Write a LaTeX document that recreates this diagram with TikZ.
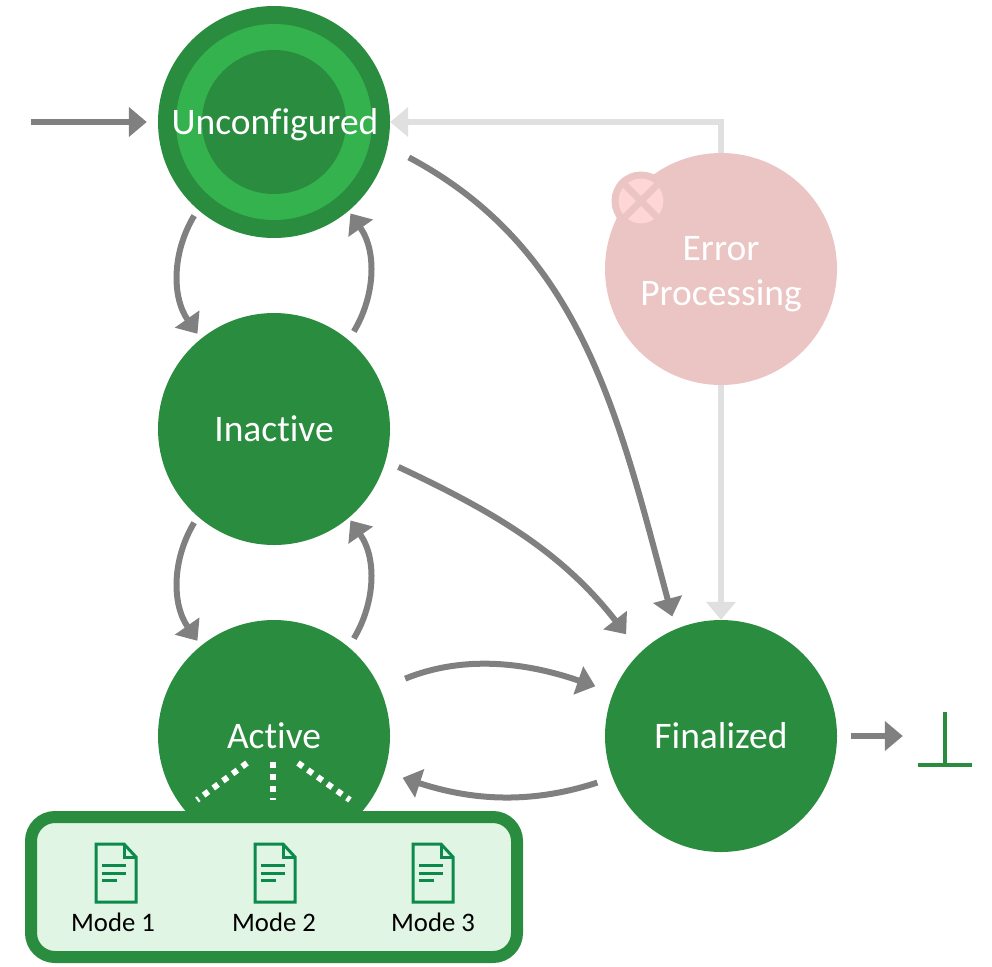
\documentclass[tikz,border=0pt]{standalone}
\usepackage{fontspec}
\setmainfont{Carlito}[Ligatures=NoCommon]
\usepackage{xcolor}
\usetikzlibrary{arrows.meta}
\definecolor{stategreen}{HTML}{2A8C3F}
\definecolor{ringgreen}{HTML}{33B24D}
\definecolor{boxgreen}{HTML}{E0F5E4}
\definecolor{docgreen}{HTML}{0B8A4C}
\definecolor{errorpink}{HTML}{EBC4C4}
\definecolor{crosspink}{HTML}{FFD6D6}
\definecolor{flowgray}{HTML}{808080}
\definecolor{faultgray}{HTML}{E0E0E0}
\tikzset{
    statenode/.style={circle,inner sep=0pt,minimum size=232pt,fill=stategreen,text=white,font=\fontsize{37.5}{45}\selectfont,align=center},
    modelabel/.style={inner sep=0pt,font=\fontsize{26.7}{28}\selectfont},
    flow/.style={draw=flowgray,line width=6pt,-{Triangle[length=18pt,width=29pt]}},
    fault/.style={draw=faultgray,line width=6pt,-{Triangle[length=18pt,width=29pt]}},
    modeline/.style={draw=white,line width=6pt,dash pattern=on 6pt off 6pt},
    docicon/.pic={
        \draw[docgreen,line width=3pt,fill=boxgreen] (-20,-29) -- (8,-29) -- (20,-16) -- (20,29) -- (-20,29) -- cycle;
        \draw[docgreen,line width=3pt] (8,-29) -- (8,-16) -- (20,-16);
        \draw[docgreen,line width=3pt] (-14,-8) -- (10,-8);
        \draw[docgreen,line width=3pt] (-14,0) -- (10,0);
        \draw[docgreen,line width=3pt] (-14,7) -- (1,7);
    }
}
\begin{document}
\begin{tikzpicture}[x=1pt,y=-1pt]
    \useasboundingbox (0,0) rectangle (992,966);
    \node[statenode] (unconfigured) at (274,122) {};
    \node[statenode,minimum size=196pt,fill=ringgreen] (ring) at (274,122) {};
    \node[statenode,minimum size=144pt] (core) at (274,122) {};
    \node[inner sep=0pt,text=white,font=\fontsize{37.5}{45}\selectfont] (unconfiguredtext) at (275,125) {Unconfigured};
    \node[statenode] (inactive) at (274,429) {Inactive};
    \node[statenode] (active) at (274,736) {Active};
    \node[statenode] (finalized) at (721,736) {Finalized};
    \node[statenode,fill=errorpink] (error) at (721,269) {};
    \node[inner sep=0pt,text=white,font=\fontsize{37.5}{45}\selectfont,align=center] (errortext) at (721,274) {Error\\Processing};
    \node[circle,inner sep=0pt,minimum size=52pt,fill=crosspink,draw=errorpink,line width=7pt] (cross) at (641,201) {};
    \draw[errorpink,line width=7pt] (cross.45) -- (cross.225);
    \draw[errorpink,line width=7pt] (cross.135) -- (cross.315);

    \coordinate (entry) at (31,122);
    \coordinate (bottomtop) at (945,712);
    \coordinate (bottomleft) at (918,765);
    \coordinate (bottomright) at (972,765);
    \coordinate (bottommid) at (945,765);
    \node[inner sep=0pt,minimum size=0pt] (bottom) at (945,736) {};

    \draw[flow,shorten >=11pt] (entry) -- (unconfigured.west);
    \draw[flow,shorten <=7pt,shorten >=6pt] (unconfigured.229) to[out=239,in=125] (inactive.129);
    \draw[flow,shorten <=10pt,shorten >=3pt] (inactive.50) to[out=59,in=-55] (unconfigured.-50);
    \draw[flow,shorten <=7pt,shorten >=6pt] (inactive.229) to[out=239,in=125] (active.129);
    \draw[flow,shorten <=10pt,shorten >=3pt] (active.50) to[out=59,in=-55] (inactive.-50);
    \draw[flow,shorten <=24pt,shorten >=13pt] (unconfigured.-12) to[out=-28,in=105] (finalized.113);
    \draw[flow,shorten <=14pt,shorten >=23pt] (inactive.-16) to[out=-25,in=128] (finalized.134);
    \draw[flow,shorten <=27pt,shorten >=19pt] (active.24) to[out=22,in=161] (finalized.158);
    \draw[flow,shorten <=16pt,shorten >=19pt] (finalized.201) to[out=198,in=-18] (active.-18);
    \draw[flow,shorten <=14pt,shorten >=42pt] (finalized.east) -- (bottom);
    \draw[fault] (error.north) -- (721,122) -- (unconfigured.east);
    \draw[fault] (error.south) -- (finalized.north);

    \draw[stategreen,line width=4pt] (bottomtop) -- (bottommid);
    \draw[stategreen,line width=4pt] (bottomleft) -- (bottomright);

    \coordinate (lineleft) at (197,800);
    \coordinate (linemid) at (273,800);
    \coordinate (lineright) at (350,800);
    \draw[modeline] (247,763) -- (lineleft);
    \draw[modeline] (273,762) -- (linemid);
    \draw[modeline] (298,763) -- (lineright);

    \node[draw=stategreen,fill=boxgreen,line width=12pt,rounded corners=24pt,minimum width=486pt,minimum height=140pt,inner sep=0pt] (modes) at (274,887) {};
    \pic at (116,873) {docicon};
    \pic at (275,873) {docicon};
    \pic at (433,873) {docicon};
    \node[modelabel] (mode1) at (113,922) {Mode 1};
    \node[modelabel] (mode2) at (274,922) {Mode 2};
    \node[modelabel] (mode3) at (433,922) {Mode 3};
\end{tikzpicture}
\end{document}
